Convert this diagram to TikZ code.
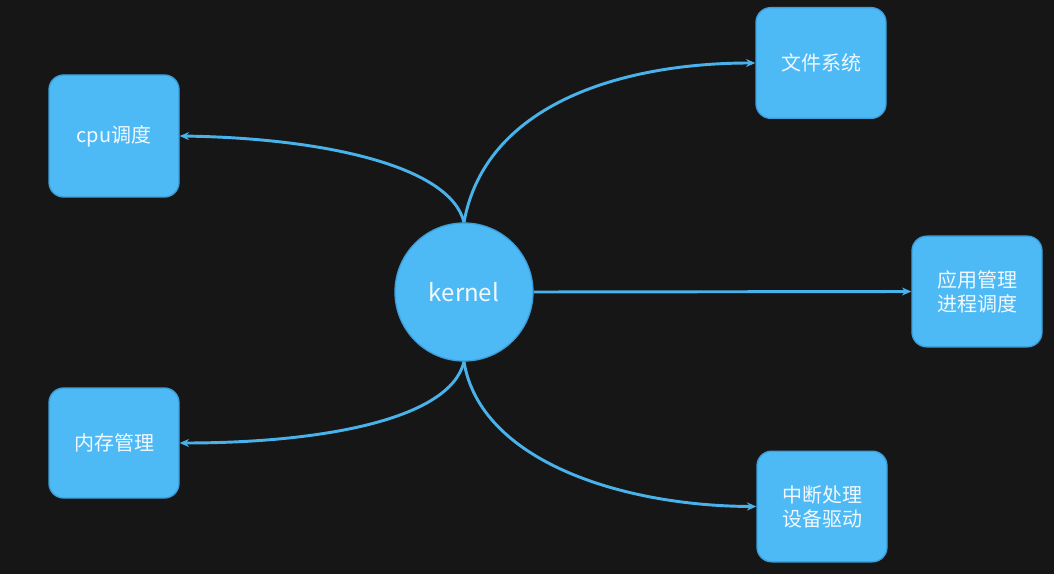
\documentclass[tikz,border=0pt]{standalone}
\usepackage{fontspec}
\setmainfont{Noto Sans CJK SC}
\usetikzlibrary{arrows.meta}
\definecolor{bg}{HTML}{161616}
\definecolor{boxfill}{HTML}{4DBAF5}
\definecolor{boxline}{HTML}{3C9FDB}
\definecolor{arrowc}{HTML}{4AB2EA}
\definecolor{txt}{HTML}{F2F8FF}
\tikzset{
  boxnode/.style={draw=boxline, line width=1pt, fill=boxfill, rounded corners=11pt,
    minimum width=97.5pt, text=txt, align=center, font=\fontsize{15}{18}\selectfont, inner sep=0pt},
  kernelnode/.style={circle, draw=boxline, line width=1pt, fill=boxfill, minimum size=103.5pt,
    text=txt, font=\fontsize{18}{22}\selectfont, inner sep=0pt},
  link/.style={draw=arrowc, line width=2.2pt, -{Stealth[length=7pt,width=6pt]}}
}
\begin{document}
\begin{tikzpicture}[x=0.75pt,y=-0.75pt]
\fill[bg] (0,0) rectangle (1054,574);
\useasboundingbox (0,0) rectangle (1054,574);
\node[kernelnode] (k) at (464,292) {kernel};
\node[boxnode, minimum height=91.5pt] (cpu) at (114,136) {cpu调度};
\node[boxnode, minimum height=82.5pt] (mem) at (114,443) {内存管理};
\node[boxnode, minimum height=83pt] (fs) at (821,63) {文件系统};
\node[boxnode, minimum height=83pt] (app) at (977,291.5) {应用管理\\进程调度};
\node[boxnode, minimum height=83pt] (irq) at (822,506.5) {中断处理\\设备驱动};
\draw[link] (k.north) .. controls (450,165) and (320,138) .. (cpu.east);
\draw[link] (k.north) .. controls (485,105) and (620,63) .. (fs.west);
\draw[link] (k.east) -- (app.west);
\draw[link] (k.south) .. controls (450,420) and (320,443) .. (mem.east);
\draw[link] (k.south) .. controls (480,460) and (620,506) .. (irq.west);
\end{tikzpicture}
\end{document}
